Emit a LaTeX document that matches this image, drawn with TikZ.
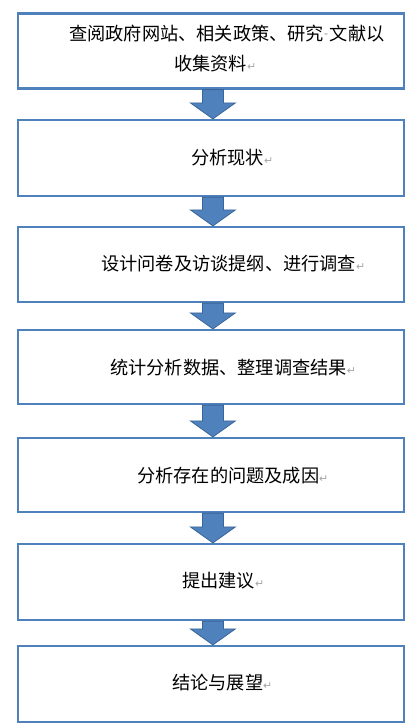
\documentclass[tikz,border=0pt]{standalone}
\usepackage{fontspec}
\newfontfamily\cjk{Noto Sans CJK SC}
\newfontfamily\symfont{DejaVu Sans}
\usetikzlibrary{calc}
\definecolor{boxblue}{HTML}{4F81BD}
\definecolor{arrowedge}{HTML}{3A6598}
\newcommand\parmark{{\symfont\fontsize{11}{11}\selectfont\color{black!35}↵}}
\newcommand\spacemark{\raisebox{2pt}{\symfont\fontsize{11}{11}\selectfont\color{black!45}-}\hspace{2pt}}
\tikzset{
  stepbox/.style = {
    draw=boxblue, line width=2.2pt,
    minimum width=386.3pt, inner sep=0pt
  },
  steptext/.style = {
    anchor=west, inner sep=0pt, text height=14pt, text depth=0pt,
    font=\cjk\fontsize{18.2}{22}\selectfont
  },
  downarrow/.style = {fill=boxblue, draw=arrowedge, line width=0.8pt, line join=miter}
}

\begin{document}
\begin{tikzpicture}[x=1pt,y=1pt]
  \useasboundingbox (0,0) rectangle (413,-728);
  % boxes
  \foreach \n/\y/\h in {1/51/75, 2/158/76, 3/264.5/75, 4/367/74, 5/475/74, 6/582/76, 7/684/76}
    { \node[stepbox, minimum height=\h pt] (b\n) at (210.9,-\y) {}; };
  % texts
  \node[steptext] (t1a) at (69,-33)   {查阅政府网站、相关政策、研究\spacemark 文献以};
  \node[steptext] (t1b) at (174,-63)  {收集资料\parmark};
  \node[steptext] (t2)  at (191,-157) {分析现状\parmark};
  \node[steptext] (t3)  at (101,-263) {设计问卷及访谈提纲、进行调查\parmark};
  \node[steptext] (t4)  at (110,-367) {统计分析数据、整理调查结果\parmark};
  \node[steptext] (t5)  at (137,-475) {分析存在的问题及成因\parmark};
  \node[steptext] (t6)  at (182,-580) {提出建议\parmark};
  \node[steptext] (t7)  at (172,-682) {结论与展望\parmark};
  % arrows
  \foreach \p/\q in {b1/b2, b2/b3, b3/b4, b4/b5, b5/b6, b6/b7} {
    \draw[downarrow] ($(\p.south)+(-8.5,0)$) -- ($(\p.south)+(12.5,0)$)
      -- ($(\q.north)+(12.5,16)$) -- ($(\q.north)+(24.5,16)$) -- ($(\q.north)+(2,0)$)
      -- ($(\q.north)+(-20.5,16)$) -- ($(\q.north)+(-8.5,16)$) -- cycle;
  };
\end{tikzpicture}
\end{document}
